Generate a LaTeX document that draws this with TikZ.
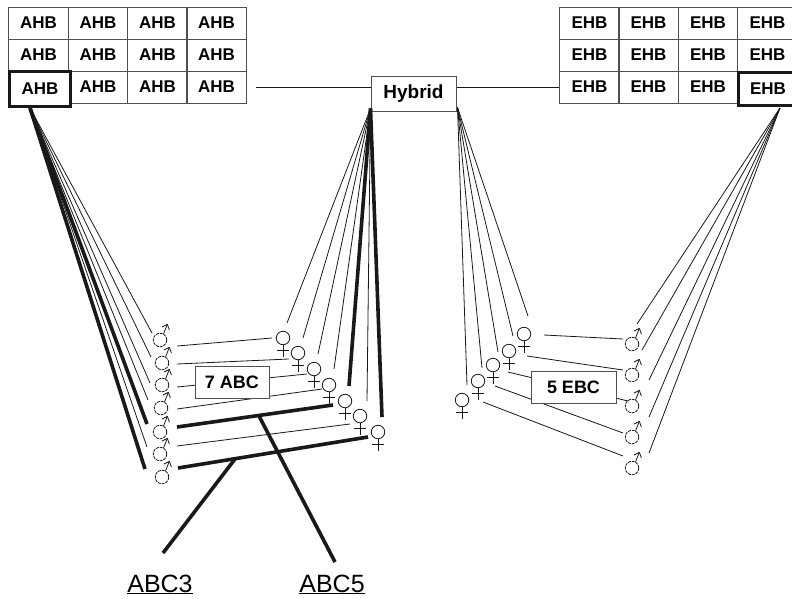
\documentclass[tikz,border=0pt]{standalone}
\usepackage{fontspec}
\setmainfont{Liberation Sans}
\usetikzlibrary{calc,arrows.meta,positioning}
\definecolor{cellGray}{RGB}{80,80,80}
\definecolor{inkBlack}{RGB}{25,25,25}
\tikzset{
  cellBox/.style={draw=cellGray,line width=.9pt,minimum width=59.3pt,minimum height=32pt,inner sep=0pt,font=\fontsize{17}{19}\selectfont\bfseries},
  hotCell/.style={draw=inkBlack,fill=white,line width=3pt,inner sep=0pt,font=\fontsize{17}{19}\selectfont\bfseries},
  labelBox/.style={draw=cellGray,fill=white,line width=1pt,inner sep=0pt,font=\fontsize{18}{20}\selectfont\bfseries},
  linkLine/.style={draw=inkBlack,line width=.8pt},
  heavyLine/.style={draw=inkBlack,line width=3.6pt},
  maleSym/.style={circle,draw=inkBlack,line width=.8pt,dash pattern=on 3pt off .9pt,minimum size=13.5pt,inner sep=0pt},
  femaleSym/.style={circle,draw=inkBlack,line width=.8pt,minimum size=13.5pt,inner sep=0pt},
  symLine/.style={draw=inkBlack,line width=.8pt},
  geneLabel/.style={anchor=base,font=\fontsize{25}{27}\selectfont}
}
\begin{document}
\begin{tikzpicture}[x=1pt,y=-1pt]
\useasboundingbox (0,0) rectangle (792,598);
\clip (0,0) rectangle (792,598);
\foreach \r/\y in {1/23,2/55,3/87}
  \foreach \c/\x in {1/38.5,2/98,3/157.5,4/216.5}{
    \ifnum\numexpr\r*10+\c\relax=31 \else
      \node[cellBox] (ahb\r\c) at (\x,\y) {AHB};
    \fi
  }
\foreach \r/\y in {1/23,2/55,3/87}
  \foreach \c/\x in {1/589.5,2/648.5,3/708,4/767.5}{
    \ifnum\numexpr\r*10+\c\relax=34 \else
      \node[cellBox] (ehb\r\c) at (\x,\y) {EHB};
    \fi
  }
\node[hotCell,minimum width=61pt,minimum height=35pt] (ahb31) at (40,88.5) {AHB};
\node[hotCell,minimum width=59pt,minimum height=33pt] (ehb34) at (768,89) {EHB};
\coordinate (ahbFoot) at (30,108);
\coordinate (ehbFoot) at (780,108);
\node[labelBox,font=\fontsize{19}{21}\selectfont\bfseries,minimum width=85pt,minimum height=35pt] (hybrid) at (413.5,93.5) {Hybrid};
\draw[linkLine,shorten <=9pt] (ahb34.east) -- (ahb34.east -| hybrid.west);
\draw[linkLine] (hybrid.east |- ehb31.west) -- (ehb31.west);

\foreach \i/\x/\y in {1/160/340,2/162/363,3/162/385,4/161/408,5/160/432,6/160/454,7/162/477}{
  \node[maleSym] (m\i) at (\x,\y) {};
  \draw[symLine,-{Straight Barb[length=4.5pt,width=8pt]}] (m\i.60) -- ++(4,-10);
}
\foreach \i/\x/\y in {1/283/338,2/298/353,3/314/369,4/329/385,5/345/401,6/360/416,7/378/432}{
  \node[femaleSym] (f\i) at (\x,\y) {};
  \draw[symLine] (f\i.south) -- ++(0,12);
  \draw[symLine] ($(f\i.south)+(-6,5)$) -- ($(f\i.south)+(6,5)$);
}
\foreach \i/\x/\y in {1/632/344,2/632/375,3/632/406,4/632/437,5/632/468}{
  \node[maleSym] (n\i) at (\x,\y) {};
  \draw[symLine,-{Straight Barb[length=4.5pt,width=8pt]}] (n\i.60) -- ++(4,-10);
}
\foreach \i/\x/\y in {1/524/334,2/509/351,3/493/365,4/478/381,5/462/400}{
  \node[femaleSym] (g\i) at (\x,\y) {};
  \draw[symLine] (g\i.south) -- ++(0,12);
  \draw[symLine] ($(g\i.south)+(-6,5)$) -- ($(g\i.south)+(6,5)$);
}

\foreach \i/\ax/\ay/\bx/\by/\kind in {1/-8/-7/4/-15/linkLine,2/-11/-6/5/-15/linkLine,3/-12/-2/4/-15/linkLine,4/-13/-8/5/-16/linkLine,5/-13/-8/4/-15/heavyLine,6/-13/-7/7/-15/linkLine,7/-17/-8/4/-15/heavyLine}{
  \draw[\kind] (ahbFoot) -- ($(m\i)+(\ax,\ay)$);
  \draw[\kind] ($(hybrid.south west)+(0,-3)$) -- ($(f\i)+(\bx,\by)$);
}
\foreach \i/\ax/\ay/\bx/\by/\kind in {1/17/6/-11/0/linkLine,2/15/1/-9/6/linkLine,3/15/2/-7/5/linkLine,4/16/1/-7/4/linkLine,5/17/-5/-12/4/heavyLine,6/17/-8/-10/8/linkLine,7/16/-9/-10/5/heavyLine}
  \draw[\kind] ($(m\i)+(\ax,\ay)$) -- ($(f\i)+(\bx,\by)$);
\foreach \i/\ax/\ay/\bx/\by in {1/5/-20/4/-18,2/10/-25/4/-15,3/17/-26/5/-13,4/17/-20/4/-13,5/17/-15/5/-15}{
  \draw[linkLine] (ehbFoot) -- ($(n\i)+(\ax,\ay)$);
  \draw[linkLine] ($(hybrid.south east)+(1,-4)$) -- ($(g\i)+(\bx,\by)$);
}
\foreach \i/\ax/\ay/\bx/\by in {1/20/1/-9/-5,2/18/5/-9/-5,3/15/7/-4/-5,4/17/5/-9/-4,5/21/2/-9/-12}
  \draw[linkLine] ($(g\i)+(\ax,\ay)$) -- ($(n\i)+(\bx,\by)$);

\node[labelBox,minimum width=74pt,minimum height=32pt] (sevenAbc) at (232,382) {7 ABC};
\node[labelBox,minimum width=85pt,minimum height=32pt] (fiveEbc) at (573.5,387) {5 EBC};

\node[geneLabel] (abcThree) at (160,592) {\underline{ABC3}};
\node[geneLabel] (abcFive) at (332,592) {\underline{ABC5}};
\coordinate (joinThree) at (235,459);
\coordinate (joinFive) at (259,416);
\coordinate (endThree) at (163,553);
\coordinate (endFive) at (335,562);
\draw[heavyLine] (joinThree) -- (endThree);
\draw[heavyLine] (joinFive) -- (endFive);
\end{tikzpicture}
\end{document}
